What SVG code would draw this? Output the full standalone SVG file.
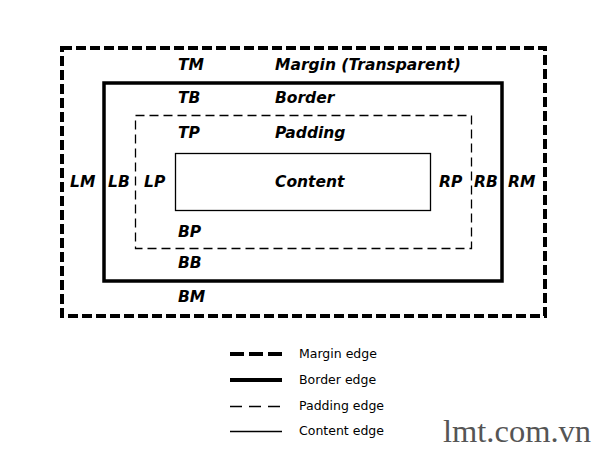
<svg xmlns="http://www.w3.org/2000/svg" width="600" height="450" viewBox="0 0 600 450">
<style>
.lbl{font-family:"DejaVu Sans",Verdana,sans-serif;font-weight:bold;font-style:italic;font-size:15.5px;fill:#000}
.leg{font-family:"DejaVu Sans",Verdana,sans-serif;font-size:12.5px;fill:#000}
.margin{fill:none;stroke:#000;stroke-width:4;stroke-dasharray:10,4}
.border{fill:none;stroke:#000;stroke-width:3.5}
.padding{fill:none;stroke:#000;stroke-width:1.3;stroke-dasharray:9,5}
.content{fill:none;stroke:#000;stroke-width:1.3}
</style>
<rect width="600" height="450" fill="#fff"/>
<g id="margin-box"><rect class="margin" x="62" y="48" width="483" height="268"/></g>
<g id="border-box"><rect class="border" x="104" y="83" width="398" height="198"/></g>
<g id="padding-box"><rect class="padding" x="135.5" y="115.5" width="336" height="133"/></g>
<g id="content-box"><rect class="content" x="175.5" y="153.5" width="255" height="57"/></g>
<g id="labels">
<text class="lbl" x="178" y="70">TM</text>
<text class="lbl" x="275" y="70">Margin (Transparent)</text>
<text class="lbl" x="178" y="103">TB</text>
<text class="lbl" x="275" y="103">Border</text>
<text class="lbl" x="178" y="138">TP</text>
<text class="lbl" x="275" y="138">Padding</text>
<text class="lbl" x="70" y="187">LM</text>
<text class="lbl" x="108" y="187">LB</text>
<text class="lbl" x="144" y="187">LP</text>
<text class="lbl" x="275" y="187">Content</text>
<text class="lbl" x="439" y="187">RP</text>
<text class="lbl" x="474" y="187">RB</text>
<text class="lbl" x="508" y="187">RM</text>
<text class="lbl" x="178" y="237">BP</text>
<text class="lbl" x="178" y="268">BB</text>
<text class="lbl" x="178" y="302">BM</text>
</g>
<g id="legend">
<line x1="230" y1="354" x2="282" y2="354" stroke="#000" stroke-width="4" stroke-dasharray="14,5"/>
<line x1="230" y1="380" x2="282" y2="380" stroke="#000" stroke-width="4"/>
<line x1="230" y1="406.5" x2="282" y2="406.5" stroke="#000" stroke-width="1.3" stroke-dasharray="12,7"/>
<line x1="230" y1="431.5" x2="282" y2="431.5" stroke="#000" stroke-width="1.3"/>
<text class="leg" x="299" y="358">Margin edge</text>
<text class="leg" x="299" y="384">Border edge</text>
<text class="leg" x="299" y="410">Padding edge</text>
<text class="leg" x="299" y="435">Content edge</text>
</g>
<text x="443" y="442" font-family="'Liberation Serif',serif" font-size="32.5" fill="#555">lmt.com.vn</text>
</svg>
